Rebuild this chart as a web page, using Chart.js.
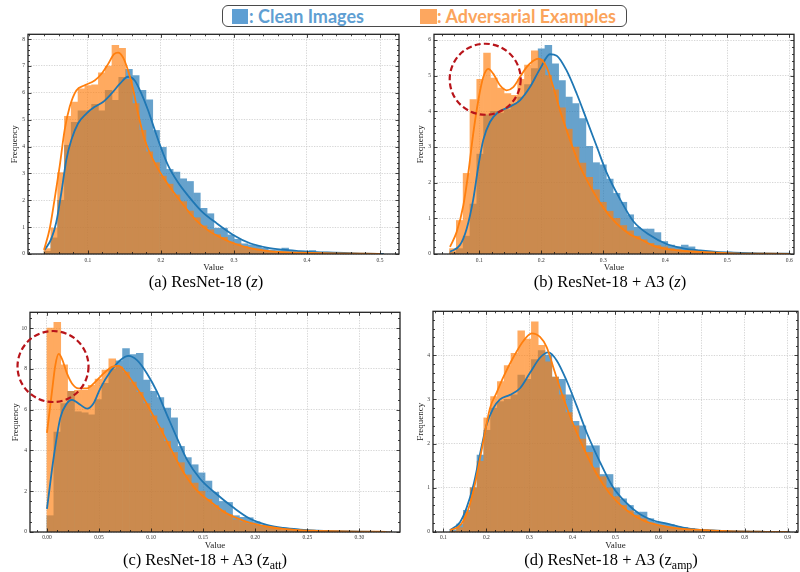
<!DOCTYPE html>
<html><head><meta charset="utf-8">
<script src="https://cdn.jsdelivr.net/npm/chart.js@4.4.1/dist/chart.umd.min.js"></script>
<style>
html,body{margin:0;padding:0;background:#fff;}
body{width:800px;height:572px;position:relative;overflow:hidden;}
canvas.pc{position:absolute;}
.cap{position:absolute;font-family:'Liberation Serif','Times New Roman',serif;font-size:16.5px;line-height:19px;color:#000;white-space:nowrap;transform:translateX(-50%);}
.sb{font-size:0.72em;position:relative;top:0.3em;}
.lgbox{position:absolute;left:222px;top:5px;width:405px;height:22px;box-sizing:border-box;border:1.6px solid #4a4a4a;border-radius:6px;}
.sq{position:absolute;top:9px;height:15px;}
.lt{position:absolute;top:5.5px;font-family:Lato,'Open Sans',sans-serif;font-weight:700;font-size:18px;line-height:20px;white-space:nowrap;}
</style></head>
<body>
<div class="lgbox"></div>
<div class="sq" style="left:232px;width:16px;background:#5f9fd3"></div>
<div class="lt" style="left:249px;color:#5f9fd3">: Clean Images</div>
<div class="sq" style="left:420px;width:17px;background:#fda75f"></div>
<div class="lt" style="left:437px;color:#fba45c">: Adversarial Examples</div>

<canvas id="ca" class="pc" style="left:0px;top:28px" width="402" height="252"></canvas>
<canvas id="cb" class="pc" style="left:402px;top:28px" width="398" height="252"></canvas>
<canvas id="cc" class="pc" style="left:0px;top:306px" width="402" height="250"></canvas>
<canvas id="cd" class="pc" style="left:402px;top:305px" width="398" height="251"></canvas>

<div class="cap" style="left:206px;top:272px">(a) ResNet-18 (<i>z</i>)</div>
<div class="cap" style="left:610px;top:272px">(b) ResNet-18 + A3 (<i>z</i>)</div>
<div class="cap" style="left:205px;top:550px">(c) ResNet-18 + A3 (z<span class="sb">att</span>)</div>
<div class="cap" style="left:611px;top:550px">(d) ResNet-18 + A3 (z<span class="sb">amp</span>)</div>

<script>
// ---------------- DATA ----------------
// Panel (a) ResNet-18 (z)
const binStartA = 0.04, binWidthA = 0.0093;
const cleanA = [0.1,0.6,2.0,4.05,4.9,5.33,5.33,5.57,5.33,6.09,5.72,6.58,6.88,6.64,6.09,5.74,4.6,3.97,3.15,3.05,2.8,2.7,2.27,1.7,1.5,0.96,0.96,0.71,0.55,0.38,0.34,0.3,0.22,0.15,0.13,0.22,0.1,0.08,0.06,0.13,0.04,0.03,0.02,0.02,0.01,0.01,0.01,0.01,0.005,0.005];
const advA = [0.2,0.97,3.03,5.13,5.66,6.15,6.27,6.3,6.75,7.0,7.77,7.66,6.5,5.6,4.6,3.8,3.4,2.9,2.6,2.2,1.95,1.6,1.35,1.05,0.9,0.72,0.62,0.45,0.38,0.28,0.22,0.18,0.13,0.1,0.08,0.07,0.05,0.04,0.03,0.03,0.02,0.02,0.02,0.02,0.01,0.01,0.01,0.01,0.01,0.01];
const kdeCleanA = [[0.0408,0.15],[0.05,0.57],[0.0568,1.19],[0.0637,2.29],[0.0705,3.51],[0.0774,4.25],[0.0865,4.86],[0.0979,5.23],[0.1093,5.48],[0.1207,5.66],[0.1322,5.97],[0.1436,6.33],[0.155,6.6],[0.1641,6.46],[0.1733,5.97],[0.1824,5.35],[0.1915,4.62],[0.2006,3.92],[0.2098,3.3],[0.2235,2.66],[0.2372,2.17],[0.2554,1.6],[0.2765,1.14],[0.299,0.71],[0.322,0.4],[0.345,0.24],[0.367,0.16],[0.39,0.11],[0.413,0.07],[0.436,0.05],[0.458,0.03],[0.48,0.01],[0.505,0.005]];
const kdeAdvA = [[0.04,0.15],[0.0477,0.94],[0.0545,2.05],[0.0614,3.27],[0.0682,4.62],[0.0751,5.48],[0.0842,6.09],[0.0956,6.28],[0.1093,6.46],[0.1184,6.7],[0.1276,7.07],[0.1358,7.44],[0.1413,7.5],[0.1481,7.32],[0.155,6.83],[0.1618,6.15],[0.1687,5.23],[0.1778,4.25],[0.1892,3.51],[0.2006,2.96],[0.2144,2.41],[0.2281,1.92],[0.2463,1.31],[0.2646,0.88],[0.2829,0.6],[0.299,0.4],[0.322,0.22],[0.345,0.12],[0.367,0.07],[0.39,0.05],[0.436,0.02],[0.5,0.005]];
const xTicksA = [0.1,0.2,0.3,0.4,0.5];
const yTicksA = [0,1,2,3,4,5,6,7,8];

// Panel (b) ResNet-18 + A3 (z)
const binStartB = 0.052, binWidthB = 0.011;
const cleanB = [0.05,0.15,0.5,1.4,2.8,3.9,4.0,3.95,4.05,4.2,4.4,4.75,5.2,5.75,5.85,5.33,4.86,4.4,4.22,3.8,3.02,2.56,2.5,2.1,1.7,1.45,1.1,0.75,0.7,0.7,0.6,0.35,0.25,0.2,0.25,0.2,0.1,0.07,0.05,0.04,0.04,0.03,0.02,0.02,0.02,0.01,0.01,0.01,0.01,0.01];
const advB = [0.15,0.94,2.26,4.33,4.9,5.63,4.93,4.65,4.5,4.45,4.9,5.3,5.7,5.45,5.0,4.6,4.1,3.5,3.0,2.55,2.15,1.8,1.45,1.2,1.0,0.8,0.65,0.5,0.4,0.3,0.24,0.2,0.15,0.12,0.1,0.08,0.06,0.05,0.04,0.04,0.03,0.03,0.02,0.02,0.02,0.01,0.01,0.01,0.01,0.01];
const kdeCleanB = [[0.0528,0.06],[0.0689,0.25],[0.0797,0.71],[0.0904,1.54],[0.0985,2.46],[0.1065,3.2],[0.1173,3.7],[0.1307,3.98],[0.1495,4.13],[0.1657,4.31],[0.1818,4.68],[0.198,5.19],[0.2141,5.6],[0.2249,5.56],[0.241,5.14],[0.2571,4.5],[0.2733,3.76],[0.2894,3.02],[0.3055,2.28],[0.327,1.54],[0.3485,0.92],[0.375,0.53],[0.402,0.28],[0.429,0.16],[0.456,0.1],[0.483,0.06],[0.51,0.04],[0.55,0.02],[0.6,0.01]];
const kdeAdvB = [[0.0528,0.2],[0.0636,0.62],[0.0743,1.36],[0.0824,2.28],[0.0904,3.39],[0.0985,4.31],[0.1065,4.96],[0.1146,5.19],[0.1227,5.05],[0.1334,4.73],[0.1442,4.59],[0.1549,4.68],[0.1657,4.96],[0.1764,5.24],[0.1872,5.42],[0.196,5.48],[0.2087,5.24],[0.2194,4.68],[0.2302,4.03],[0.2463,3.2],[0.2625,2.46],[0.2786,1.91],[0.3001,1.3],[0.3216,0.85],[0.3431,0.55],[0.3593,0.42],[0.3823,0.22],[0.409,0.12],[0.456,0.06],[0.51,0.02],[0.6,0.005]];
const xTicksB = [0.1,0.2,0.3,0.4,0.5,0.6];
const yTicksB = [0,1,2,3,4,5,6];

// Panel (c) ResNet-18 + A3 (z_att)
const binStartC = 0.0, binWidthC = 0.0066;
const cleanC = [0.8,4.9,6.3,6.9,5.9,5.85,5.75,6.5,7.3,8.0,8.4,9.0,8.7,8.77,7.46,6.9,6.6,6.08,5.6,4.2,3.65,3.3,2.9,2.5,1.95,1.5,1.45,0.8,0.72,0.7,0.5,0.35,0.25,0.18,0.12,0.1,0.08,0.06,0.05,0.04,0.03,0.03,0.02,0.02,0.01,0.01,0.01,0.01,0.01,0.01];
const advC = [10.0,10.29,8.2,6.9,6.95,6.95,7.2,7.5,7.95,8.5,8.1,7.85,7.35,6.85,6.3,5.7,5.1,4.45,3.9,3.4,2.8,2.4,2.0,1.6,1.3,1.05,0.85,0.6,0.5,0.4,0.32,0.25,0.2,0.15,0.12,0.1,0.08,0.06,0.05,0.04,0.04,0.03,0.03,0.02,0.02,0.02,0.02,0.02,0.02,0.02];
const kdeCleanC = [[0,1.13],[0.0064,3.65],[0.0128,5.6],[0.0192,6.32],[0.024,6.48],[0.032,6.24],[0.0384,6.05],[0.0448,6.32],[0.0512,7.05],[0.0608,7.86],[0.0704,8.43],[0.0784,8.64],[0.0864,8.43],[0.096,7.78],[0.1056,6.89],[0.1152,5.75],[0.1248,4.62],[0.1344,3.55],[0.1472,2.6],[0.163,1.85],[0.179,1.2],[0.195,0.65],[0.211,0.35],[0.227,0.2],[0.243,0.12],[0.259,0.07],[0.275,0.04],[0.3,0.015],[0.326,0.005]];
const kdeAdvC = [[0,4.86],[0.0048,6.89],[0.008,8.18],[0.0112,8.74],[0.0144,8.5],[0.0192,7.78],[0.024,7.29],[0.0304,7.05],[0.0384,7.05],[0.0464,7.37],[0.0544,7.78],[0.0624,8.1],[0.0688,8.15],[0.0752,7.86],[0.0832,7.29],[0.0928,6.56],[0.1024,5.67],[0.112,4.78],[0.1216,3.81],[0.1312,2.92],[0.144,2.03],[0.1568,1.5],[0.1696,1.0],[0.1823,0.68],[0.195,0.45],[0.211,0.27],[0.227,0.15],[0.243,0.09],[0.259,0.06],[0.275,0.04],[0.3,0.02],[0.326,0.01]];
const xTicksC = [0,0.05,0.1,0.15,0.2,0.25,0.3];
const yTicksC = [0,2,4,6,8,10];

// Panel (d) ResNet-18 + A3 (z_amp)
const binStartD = 0.115, binWidthD = 0.0158;
const cleanD = [0.05,0.18,0.49,1.0,1.74,2.3,2.8,2.95,3.0,3.1,3.55,3.45,3.9,4.1,4.0,3.5,3.45,3.1,2.5,2.4,1.95,1.95,1.3,1.3,1.0,0.75,0.6,0.45,0.45,0.3,0.22,0.2,0.17,0.12,0.1,0.08,0.06,0.05,0.04,0.03,0.02,0.02,0.02,0.02,0.01,0.01,0.01,0.01,0.01,0.01];
const advD = [0.02,0.1,0.45,1.0,1.6,2.58,3.06,3.4,3.76,4.04,4.55,4.36,4.75,4.22,3.85,3.5,3.1,2.7,2.4,2.1,1.8,1.45,1.25,1.0,0.8,0.6,0.48,0.38,0.3,0.2,0.15,0.12,0.1,0.08,0.06,0.05,0.04,0.04,0.03,0.03,0.02,0.02,0.02,0.02,0.01,0.01,0.01,0.01,0.01,0.01];
const kdeCleanD = [[0.1155,0.04],[0.1387,0.22],[0.1542,0.55],[0.1697,1.05],[0.1852,1.76],[0.2007,2.43],[0.2162,2.8],[0.2317,3.0],[0.255,3.1],[0.2782,3.25],[0.3014,3.6],[0.3246,3.94],[0.344,4.06],[0.3633,3.88],[0.3865,3.42],[0.4098,2.85],[0.433,2.25],[0.464,1.58],[0.495,1.0],[0.526,0.65],[0.557,0.4],[0.588,0.26],[0.619,0.19],[0.657,0.1],[0.696,0.05],[0.735,0.03],[0.774,0.015],[0.85,0.005],[0.9,0.002]];
const kdeAdvD = [[0.1155,0.04],[0.139,0.15],[0.154,0.41],[0.17,0.93],[0.189,1.85],[0.2084,2.8],[0.2239,3.15],[0.2394,3.5],[0.2627,3.95],[0.2859,4.32],[0.3053,4.49],[0.3246,4.41],[0.3401,4.18],[0.3556,3.72],[0.3788,3.03],[0.402,2.43],[0.4253,1.91],[0.4563,1.31],[0.4873,0.86],[0.526,0.49],[0.5645,0.26],[0.6035,0.15],[0.6567,0.07],[0.711,0.04],[0.774,0.015],[0.85,0.005],[0.9,0.002]];
const xTicksD = [0.1,0.2,0.3,0.4,0.5,0.6,0.7,0.8,0.9];
const yTicksD = [0,1,2,3,4];

// Annotation circles (data coords of centre, radius in px)
const circleB = {x:0.1096, y:4.9, r:35.5};
const circleC = {x:0.0058, y:8.12, r:35.5};

// ---------------- DRAWING ----------------
const SERIF = "'Liberation Serif','Times New Roman',serif";

// Draw each histogram opaque on its own layer, then composite it with alpha (no seams between bars).
const layerPlugin = {
  id: 'layer',
  beforeDatasetDraw(chart, args) {
    const ds = chart.data.datasets[args.index];
    if (ds.layerAlpha === undefined) return;
    const off = document.createElement('canvas');
    off.width = chart.canvas.width; off.height = chart.canvas.height;
    const octx = off.getContext('2d');
    octx.setTransform(chart.ctx.getTransform());
    args.meta.controller._ctx = octx;
    chart.$layer = off;
  },
  afterDatasetDraw(chart, args) {
    const ds = chart.data.datasets[args.index];
    if (ds.layerAlpha === undefined) return;
    args.meta.controller._ctx = chart.ctx;
    const ctx = chart.ctx, a = chart.chartArea;
    ctx.save();
    ctx.setTransform(1, 0, 0, 1, 0, 0);
    ctx.beginPath(); ctx.rect(a.left, a.top, a.right - a.left, a.bottom - a.top); ctx.clip();
    ctx.globalAlpha = ds.layerAlpha;
    ctx.drawImage(chart.$layer, 0, 0);
    ctx.restore();
  }
};

const framePlugin = {
  id: 'frame',
  afterDraw(chart, args, o) {
    const {ctx, chartArea: a, scales: {x, y}} = chart;
    ctx.save();
    ctx.strokeStyle = '#111';
    ctx.lineWidth = 0.8;
    const majX = x.ticks.map(t => t.value), majY = y.ticks.map(t => t.value);
    const minors = (s, step, maj) => {
      const out = [];
      for (let k = Math.ceil(s.min / step - 1e-9); k * step <= s.max + 1e-9; k++) {
        const v = k * step;
        if (!maj.some(m => Math.abs(m - v) < step / 10)) out.push(v);
      }
      return out;
    };
    const drawX = (vals, len) => {
      ctx.beginPath();
      vals.forEach(v => {
        const px = Math.round(x.getPixelForValue(v)) + 0.5;
        ctx.moveTo(px, a.bottom); ctx.lineTo(px, a.bottom - len);
        ctx.moveTo(px, a.top); ctx.lineTo(px, a.top + len);
      });
      ctx.stroke();
    };
    const drawY = (vals, len) => {
      ctx.beginPath();
      vals.forEach(v => {
        const py = Math.round(y.getPixelForValue(v)) + 0.5;
        ctx.moveTo(a.left, py); ctx.lineTo(a.left + len, py);
        ctx.moveTo(a.right, py); ctx.lineTo(a.right - len, py);
      });
      ctx.stroke();
    };
    drawX(majX, 3.5); drawY(majY, 3.5);
    drawX(minors(x, o.xMinor, majX), 2); drawY(minors(y, o.yMinor, majY), 2);
    ctx.lineWidth = 1.3;
    ctx.strokeStyle = '#222';
    ctx.strokeRect(a.left, a.top, a.right - a.left, a.bottom - a.top);
    if (o.circle) {
      const c = o.circle;
      ctx.beginPath();
      ctx.setLineDash([6, 3.2]);
      ctx.lineWidth = 2.2;
      ctx.strokeStyle = '#b8141a';
      ctx.arc(x.getPixelForValue(c.x), y.getPixelForValue(c.y), c.r, 0, Math.PI * 2);
      ctx.stroke();
    }
    ctx.restore();
  }
};

function centers(start, width, n) {
  return Array.from({length: n}, (_, i) => start + width * (i + 0.5));
}

function panel(id, p) {
  const xs = centers(p.start, p.width, p.clean.length);
  const barOpts = {type: 'bar', borderWidth: 0, barPercentage: 1, categoryPercentage: 1, grouped: false};
  const lineOpts = {type: 'line', borderWidth: 1.8, pointRadius: 0, fill: false, cubicInterpolationMode: 'monotone'};
  new Chart(document.getElementById(id), {
    type: 'bar',
    data: {
      datasets: [
        Object.assign({data: xs.map((x, i) => ({x, y: p.clean[i]})), backgroundColor: '#1f77b4', layerAlpha: 0.68, order: 3}, barOpts),
        Object.assign({data: xs.map((x, i) => ({x, y: p.adv[i]})), backgroundColor: '#ff7f0e', layerAlpha: 0.66, order: 2}, barOpts),
        Object.assign({data: p.kdeClean.map(([x, y]) => ({x, y})), borderColor: '#1f77b4', order: 1}, lineOpts),
        Object.assign({data: p.kdeAdv.map(([x, y]) => ({x, y})), borderColor: '#ff7f0e', order: 0}, lineOpts)
      ]
    },
    options: {
      responsive: false, maintainAspectRatio: false, animation: false, events: [],
      layout: {padding: {top: 4, right: p.padRight, left: 0, bottom: 0}},
      plugins: {legend: {display: false}, tooltip: {enabled: false},
                frame: {xMinor: p.xMinor, yMinor: p.yMinor, circle: p.circle}},
      scales: {
        x: {
          type: 'linear', min: p.xmin, max: p.xmax, offset: false,
          afterBuildTicks: s => { s.ticks = p.xTicks.map(v => ({value: v})); },
          afterFit: s => { s.height = p.xH; },
          grid: {color: '#c4c4c4', lineWidth: 0.7, drawTicks: false, offset: false},
          border: {display: false, dash: [1.3, 1.3]},
          ticks: {padding: p.xTickPad, maxRotation: 0, autoSkip: false, color: '#333',
                  font: {family: SERIF, size: 5.5}, callback: v => v.toFixed(p.xDec)},
          title: {display: true, text: 'Value', color: '#222', font: {family: SERIF, size: 9},
                  padding: {top: 0, bottom: p.xTitlePad}}
        },
        y: {
          type: 'linear', min: 0, max: p.ymax,
          afterBuildTicks: s => { s.ticks = p.yTicks.map(v => ({value: v})); },
          afterFit: s => { s.width = p.yW; },
          grid: {color: '#c4c4c4', lineWidth: 0.7, drawTicks: false},
          border: {display: false, dash: [1.3, 1.3]},
          ticks: {padding: 3, autoSkip: false, color: '#333',
                  font: {family: SERIF, size: 5.5}, callback: v => String(v)},
          title: {display: true, text: 'Frequency', color: '#222', font: {family: SERIF, size: 9},
                  padding: {top: p.yTitlePad, bottom: 0}}
        }
      }
    },
    plugins: [layerPlugin, framePlugin]
  });
}

panel('ca', {start: binStartA, width: binWidthA, clean: cleanA, adv: advA, kdeClean: kdeCleanA, kdeAdv: kdeAdvA,
  xTicks: xTicksA, yTicks: yTicksA, xmin: 0.018, xmax: 0.526, ymax: 8.18, xDec: 1,
  xMinor: 0.02, yMinor: 0.2, yW: 28, xH: 26, padRight: 3, yTitlePad: 9.6, xTitlePad: 6.6, xTickPad: 3});
panel('cb', {start: binStartB, width: binWidthB, clean: cleanB, adv: advB, kdeClean: kdeCleanB, kdeAdv: kdeAdvB,
  xTicks: xTicksB, yTicks: yTicksB, xmin: 0.027, xmax: 0.6077, ymax: 6.16, xDec: 1,
  xMinor: 0.02, yMinor: 0.2, yW: 32, xH: 26, padRight: 6, yTitlePad: 13.1, xTitlePad: 6.9, xTickPad: 3, circle: circleB});
panel('cc', {start: binStartC, width: binWidthC, clean: cleanC, adv: advC, kdeClean: kdeCleanC, kdeAdv: kdeAdvC,
  xTicks: xTicksC, yTicks: yTicksC, xmin: -0.0163, xmax: 0.339, ymax: 10.78, xDec: 2,
  xMinor: 0.01, yMinor: 0.5, yW: 30, xH: 24, padRight: 2, yTitlePad: 10.1, xTitlePad: 4.6, xTickPad: 2.5, circle: circleC});
panel('cd', {start: binStartD, width: binWidthD, clean: cleanD, adv: advD, kdeClean: kdeCleanD, kdeAdv: kdeAdvD,
  xTicks: xTicksD, yTicks: yTicksD, xmin: 0.076, xmax: 0.924, ymax: 4.99, xDec: 1,
  xMinor: 0.02, yMinor: 0.2, yW: 31, xH: 24, padRight: 2, yTitlePad: 13.1, xTitlePad: 4.6, xTickPad: 2.5});
</script>
</body></html>
